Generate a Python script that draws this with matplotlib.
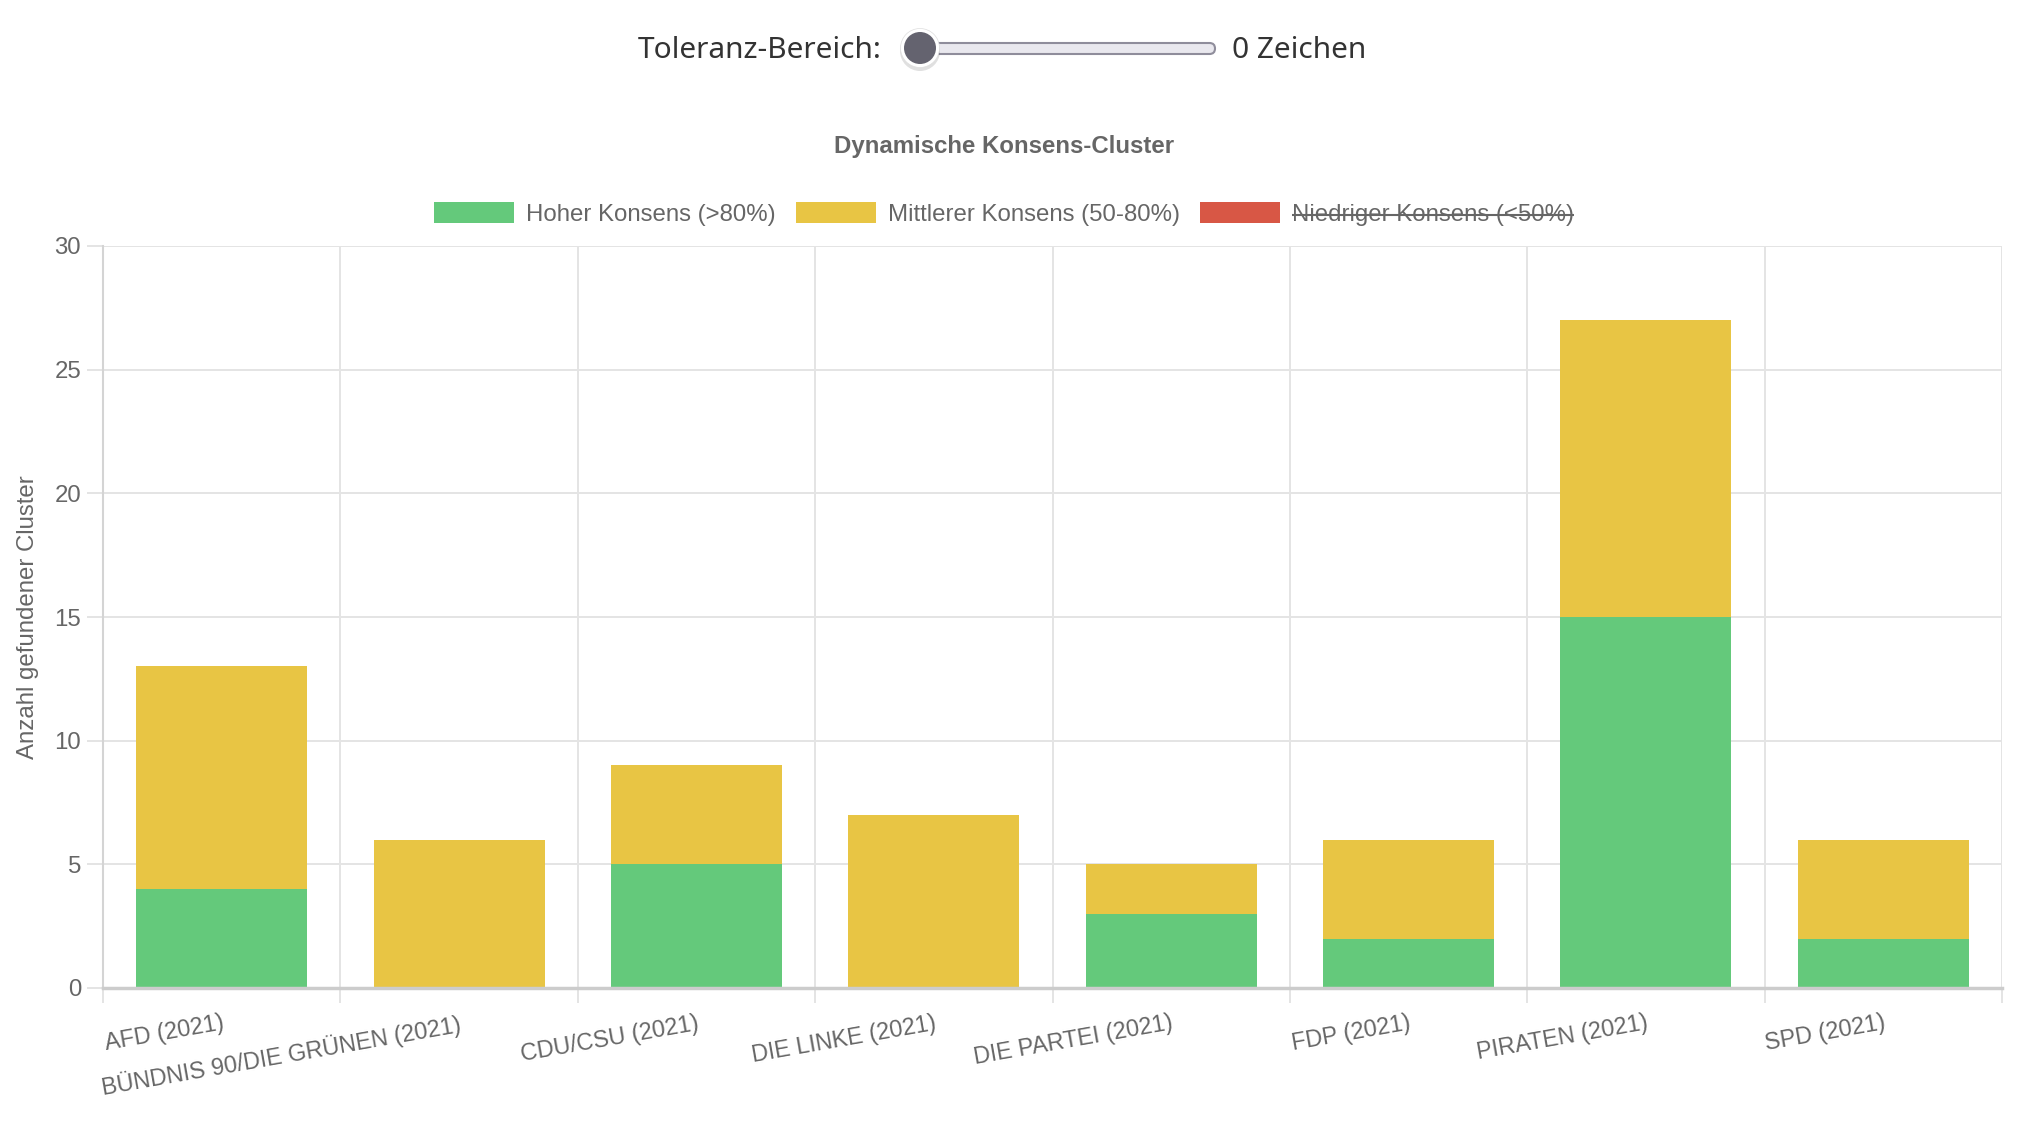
import numpy as np
import matplotlib
matplotlib.use("Agg")
import matplotlib.pyplot as plt
from matplotlib.patches import Patch, FancyBboxPatch, Circle

# ---- data ----
parties = ["AFD (2021)", "BÜNDNIS 90/DIE GRÜNEN (2021)", "CDU/CSU (2021)", "DIE LINKE (2021)",
           "DIE PARTEI (2021)", "FDP (2021)", "PIRATEN (2021)", "SPD (2021)"]
high_consensus = [4, 0, 5, 0, 3, 2, 15, 2]
mid_consensus = [9, 6, 4, 7, 2, 4, 12, 4]
series_labels = ["Hoher Konsens (>80%)", "Mittlerer Konsens (50-80%)", "Niedriger Konsens (<50%)"]
y_ticks = [0, 5, 10, 15, 20, 25, 30]
title = "Dynamische Konsens-Cluster"
y_label = "Anzahl gefundener Cluster"
slider_label = "Toleranz-Bereich:"
slider_value = "0 Zeichen"

# ---- style ----
W, H = 2026, 1132
GREEN, YELLOW, RED = "#64c97b", "#e8c544", "#d85745"
TXT = "#666666"
GRID = "#e4e4e4"
FS = 17.28  # 24 px
FONT = ["Liberation Sans", "DejaVu Sans"]
plt.rcParams["font.family"] = FONT

fig = plt.figure(figsize=(W / 100, H / 100), dpi=100)
L, R, T, B = 103, 2002, 246, 988
ax = fig.add_axes([L / W, 1 - B / H, (R - L) / W, (B - T) / H])

x = np.arange(len(parties))
ax.bar(x, high_consensus, width=0.72, color=GREEN, zorder=2)
ax.bar(x, mid_consensus, width=0.72, bottom=high_consensus, color=YELLOW, zorder=2)

ax.set_xlim(-0.5, len(parties) - 0.5)
ax.set_ylim(0, 30)
ax.set_axisbelow(True)

# x: gridlines/ticks at category boundaries, labels at centres
ax.set_xticks(np.arange(-0.5, len(parties), 1))
ax.set_xticklabels([])
ax.set_xticks(x, minor=True)
ax.set_xticklabels(parties, minor=True)
ax.tick_params(axis="x", which="major", length=10.8, width=1.4, color=GRID)
ax.tick_params(axis="x", which="minor", length=0, pad=17, labelsize=16.8, labelcolor=TXT)
for lab in ax.get_xticklabels(minor=True):
    lab.set_rotation(10)
    lab.set_ha("right")
    lab.set_va("top")
    lab.set_rotation_mode("anchor")

ax.set_yticks(y_ticks)
ax.tick_params(axis="y", length=11.5, width=1.4, color=GRID, pad=4.3, labelsize=FS, labelcolor=TXT)
ax.grid(True, which="major", color=GRID, linewidth=1.4)

for s in ["top", "right"]:
    ax.spines[s].set_visible(False)
ax.spines["left"].set_color("#d4d4d4")
ax.spines["left"].set_linewidth(1.5)
ax.spines["bottom"].set_color("#cccccc")
ax.spines["bottom"].set_linewidth(2.5)

# ---- overlay in pixel coordinates ----
ov = fig.add_axes([0, 0, 1, 1], zorder=5)
ov.set_xlim(0, W)
ov.set_ylim(H, 0)
ov.axis("off")

CX = 1004
ov.text(CX, 147, title, ha="center", va="center", fontsize=FS, fontweight="bold", color=TXT)
ov.text(28, 617, y_label, ha="center", va="center", rotation=90, fontsize=FS, color=TXT)

# slider
ov.text(882, 58, slider_label, ha="right", va="baseline", fontsize=21.5, color="#333333",
        family=["Noto Sans", "DejaVu Sans"])
ov.text(1232, 58, slider_value, ha="left", va="baseline", fontsize=21.5, color="#333333",
        family=["Noto Sans", "DejaVu Sans"])
track = FancyBboxPatch((912, 43), 1215 - 912, 11, boxstyle="round,pad=0,rounding_size=5.5",
                       fc="#e9e8ee", ec="#8f8d9b", lw=1.5)
ov.add_patch(track)
ov.add_patch(Circle((920, 51), 20, fc="black", alpha=0.12, ec="none"))
ov.add_patch(Circle((920, 48), 19.5, fc="white", ec="#dddddd", lw=0.5))
ov.add_patch(Circle((920, 48), 16, fc="#64636f", ec="none"))

# legend
handles = [Patch(facecolor=GREEN, edgecolor="none"),
           Patch(facecolor=YELLOW, edgecolor="none"),
           Patch(facecolor=RED, edgecolor="none")]
leg = fig.legend(handles, series_labels, loc="center", bbox_to_anchor=(CX / W, 1 - 214 / H),
                 ncol=3, frameon=False, fontsize=FS, handlelength=80 / 24, handleheight=23 / 24,
                 handletextpad=0.5, columnspacing=20 / 24, borderpad=0, labelcolor=TXT)

fig.canvas.draw()
r = fig.canvas.get_renderer()
bb = leg.get_texts()[2].get_window_extent(r)
yc = H - (bb.y0 + bb.y1) / 2
ov.plot([bb.x0, bb.x1], [yc, yc], color=TXT, lw=1.5, solid_capstyle="butt")

fig.savefig("out.png", dpi=100)
